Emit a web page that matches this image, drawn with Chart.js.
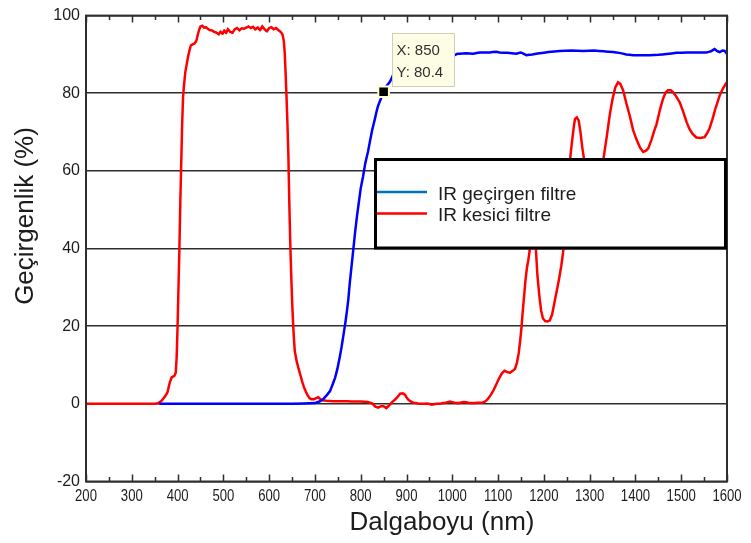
<!DOCTYPE html>
<html>
<head>
<meta charset="utf-8">
<script src="https://cdn.jsdelivr.net/npm/chart.js@4.4.1/dist/chart.umd.min.js"></script>
<style>
  html, body { margin: 0; padding: 0; background: #fff; }
  #wrap { width: 751px; height: 543px; position: relative; }
</style>
</head>
<body>
<div id="wrap"><canvas id="chart" width="751" height="543"></canvas></div>
<script>
// Transmittance spectra (wavelength in nm, transmittance in %)
const wlRed = [200, 250, 300, 350, 358, 365, 372, 378, 383, 387, 393, 396, 398, 400, 402, 404, 406, 408, 410, 412,
  414, 417, 420, 423, 426, 429, 433, 437, 441, 444, 447, 450, 454, 458, 462, 466, 470, 475, 480, 485,
  490, 494, 498, 502, 506, 510, 515, 520, 525, 530, 535, 540, 545, 550, 555, 560, 565, 570, 575, 580,
  585, 590, 595, 600, 605, 610, 615, 620, 625, 629, 632, 634, 636, 638, 640, 642, 644, 646, 648, 650,
  652, 654, 656, 660, 664, 668, 672, 676, 680, 684, 688, 692, 698, 703, 707, 711, 716, 725, 740, 760,
  780, 800, 815, 825, 832, 838, 845, 850, 856, 862, 868, 874, 880, 886, 892, 897, 902, 908, 915, 925,
  935, 945, 955, 965, 975, 985, 995, 1005, 1015, 1025, 1035, 1045, 1055, 1065, 1072, 1078, 1084, 1090, 1096, 1102,
  1108, 1114, 1120, 1126, 1132, 1137, 1141, 1145, 1148, 1151, 1154, 1157, 1160, 1163, 1166, 1169, 1172, 1175, 1178, 1181,
  1183, 1186, 1190, 1194, 1198, 1203, 1208, 1213, 1218, 1223, 1228, 1233, 1238, 1242, 1246, 1250, 1254, 1257, 1261, 1265,
  1268, 1272, 1276, 1280, 1284, 1289, 1294, 1300, 1306, 1312, 1318, 1324, 1330, 1337, 1344, 1350, 1356, 1362, 1367, 1373,
  1380, 1388, 1395, 1402, 1410, 1417, 1423, 1428, 1435, 1441, 1446, 1453, 1460, 1466, 1471, 1477, 1482, 1490, 1497, 1505,
  1512, 1518, 1525, 1533, 1542, 1551, 1557, 1562, 1568, 1575, 1584, 1591, 1597, 1600];
const tRed = [0, 0, 0, 0, 0.2, 0.8, 1.8, 3, 5.5, 6.8, 7.2, 8, 12, 20, 30, 40, 52, 62, 72, 79,
  82, 85.5, 87.5, 89.5, 91, 92.3, 92.6, 92.8, 93.5, 95, 96.3, 97.2, 97.4, 96.9, 97, 96.6, 96.3, 96.2, 95.8, 95.6,
  95.2, 95.9, 95.3, 96.2, 95.5, 96.5, 95.8, 95.6, 96.5, 96.8, 96.2, 96.7, 96.6, 96.9, 97.2, 96.8, 97.1, 96.4, 97, 96.2,
  97.2, 96.5, 95.9, 96.8, 97, 96.5, 96.8, 96.3, 95.8, 95.2, 93.5, 90.5, 85, 79, 72, 64, 52, 42, 34, 27,
  21.5, 17, 13.6, 11, 9.2, 7.5, 5.8, 4.3, 3.2, 2.2, 1.5, 1.2, 1.2, 1.5, 1.7, 1.3, 0.9, 0.8, 0.7, 0.7,
  0.6, 0.6, 0.5, 0.1, -0.7, -1, -0.6, -0.6, -1.1, -0.4, 0.4, 1, 1.7, 2.6, 2.7, 2.3, 1.3, 0.7, 0.3, 0.1,
  0, 0.1, -0.2, 0, 0.1, 0.3, 0.6, 0.3, 0.2, 0.5, 0.3, 0.2, 0.3, 0.3, 0.6, 1.3, 2.3, 3.5, 5, 6.5,
  7.8, 8.5, 8.2, 8, 8.5, 9, 10.5, 13, 16, 19.5, 24, 28, 32, 35, 37, 39.5, 46, 50, 50.5, 45,
  39, 33, 28, 24, 22, 21.3, 21.2, 21.5, 23, 26, 29, 32, 35.5, 39, 45, 51, 57, 62.7, 67, 71,
  73.4, 73.8, 73, 70, 66, 62, 57, 53, 50.5, 51, 54, 58.5, 63, 68.5, 74.5, 78.5, 81.5, 82.8, 82.4, 80.8,
  77.5, 74, 70.5, 68.2, 66, 64.9, 65.2, 65.8, 68, 70.3, 72, 75.5, 78.5, 80.2, 80.8, 80.8, 80.3, 79, 77.6, 75,
  72.5, 70.8, 69.5, 68.6, 68.5, 68.7, 69.8, 71, 73.2, 76.2, 79.4, 81.2, 82.4, 82.8];

const wlBlue = [360, 400, 450, 500, 550, 600, 650, 700, 710, 718, 725, 733, 738, 744, 749, 754, 758, 762, 766, 770,
  773, 776, 780, 784, 788, 792, 796, 800, 805, 810, 816, 820, 825, 831, 835, 838, 842, 846, 850, 856,
  864, 872, 880, 890, 900, 920, 950, 980, 1002, 1010, 1016, 1030, 1046, 1060, 1082, 1095, 1103, 1120, 1140, 1150,
  1162, 1175, 1191, 1210, 1235, 1260, 1286, 1310, 1330, 1351, 1365, 1380, 1395, 1410, 1431, 1450, 1468, 1490, 1512, 1530,
  1555, 1565, 1573, 1578, 1584, 1590, 1595, 1600];
const tBlue = [0, 0, 0, 0, 0, 0, 0, 0.2, 0.6, 1.2, 2.1, 3.3, 4.8, 6.7, 9, 11.9, 14.5, 17.5, 20.5, 24,
  27, 31, 35.5, 40, 44.5, 48.5, 52, 55.5, 58.5, 62, 65, 67.5, 70.5, 73.4, 75.5, 76.8, 78, 79.2, 80.4, 81.8,
  83, 85, 86.8, 88.3, 89.2, 89.6, 89.8, 89.6, 89.6, 90.1, 90.2, 90.3, 90.2, 90.5, 90.5, 90.7, 90.5, 90.4, 90.2, 90.5,
  89.8, 90, 90.3, 90.6, 90.9, 91, 90.9, 91, 90.8, 90.6, 90.4, 90, 89.8, 89.8, 89.8, 89.9, 90.1, 90.4, 90.5, 90.5,
  90.5, 90.8, 91.4, 90.9, 90.6, 91, 90.9, 90.1];

const seriesNames = ["IR geçirgen filtre", "IR kesici filtre"];
const legendColors = ["#0072BD", "#FF0000"];

const xTickValues = [200, 300, 400, 500, 600, 700, 800, 900, 1000, 1100, 1200, 1300, 1400, 1500, 1600];
const yTickValues = [-20, 0, 20, 40, 60, 80, 100];

// Data cursor point
const tipWl = 850;
const tipT = 80.4;

const toPoints = (xs, ys) => xs.map((x, i) => ({ x, y: ys[i] }));

const ARIAL = "'Liberation Sans', Arial, sans-serif";
const TEXT = "#1c1c1c";
const AXIS = "#2e2e2e";

// Box, inward tick marks, condensed x labels, axis titles, legend and data tip
const decorations = {
  id: "decorations",
  afterDatasetsDraw(chart) {
    const { ctx, chartArea: a, scales: { x, y } } = chart;
    ctx.save();

    // tick marks every 50 nm, pointing into the plot
    ctx.strokeStyle = AXIS;
    ctx.lineWidth = 1.5;
    for (let v = 200; v <= 1600; v += 50) {
      const px = Math.round(x.getPixelForValue(v)) + 0.5;
      const len = v % 100 === 0 ? 7 : 4.5;
      ctx.beginPath();
      ctx.moveTo(px, a.bottom);
      ctx.lineTo(px, a.bottom - len);
      ctx.moveTo(px, a.top);
      ctx.lineTo(px, a.top + len);
      ctx.stroke();
    }

    // axes box
    ctx.lineWidth = 2;
    ctx.strokeRect(a.left, a.top, a.right - a.left, a.bottom - a.top);

    // x tick labels, horizontally condensed
    ctx.fillStyle = TEXT;
    ctx.font = "16px " + ARIAL;
    ctx.textAlign = "center";
    ctx.textBaseline = "alphabetic";
    x.ticks.forEach(t => {
      ctx.save();
      ctx.translate(x.getPixelForValue(t.value), 501);
      ctx.scale(0.82, 1);
      ctx.fillText(String(t.value), 0, 0);
      ctx.restore();
    });

    // axis titles
    ctx.font = "26px " + ARIAL;
    ctx.fillText("Dalgaboyu (nm)", 442, 530);

    ctx.save();
    ctx.translate(33, 216);
    ctx.rotate(-Math.PI / 2);
    ctx.font = "26px " + ARIAL;
    ctx.fillText("Geçirgenlik (%)", 0, 0);
    ctx.restore();

    // data tip next to the cursor point
    const px = x.getPixelForValue(tipWl);
    const py = y.getPixelForValue(tipT);
    const bx = Math.round(px + 8) + 0.5;
    const by = Math.round(py - 59) + 0.5;
    ctx.fillStyle = "#fdfde6";
    ctx.strokeStyle = "#cfcfb6";
    ctx.lineWidth = 1;
    ctx.fillRect(bx, by, 62, 53);
    ctx.strokeRect(bx, by, 62, 53);
    ctx.fillStyle = "#303030";
    ctx.font = "15px " + ARIAL;
    ctx.textAlign = "left";
    ctx.fillText("X: " + tipWl, bx + 4, by + 21.5);
    ctx.fillText("Y: " + tipT.toFixed(1), bx + 4, by + 43);

    // legend box
    const lx = 375.5, ly = 159.5, lw = 350, lh = 88.5;
    ctx.fillStyle = "#fff";
    ctx.fillRect(lx, ly, lw, lh);
    ctx.strokeStyle = "#000";
    ctx.lineWidth = 3;
    ctx.strokeRect(lx, ly, lw, lh);
    ctx.font = "19px " + ARIAL;
    ctx.lineWidth = 2.5;
    seriesNames.forEach((name, i) => {
      const ry = 192 + i * 21.5;
      ctx.strokeStyle = legendColors[i];
      ctx.beginPath();
      ctx.moveTo(377, ry);
      ctx.lineTo(427, ry);
      ctx.stroke();
      ctx.fillStyle = TEXT;
      ctx.fillText(name, 438, ry + 7.5);
    });

    ctx.restore();
  }
};

new Chart(document.getElementById("chart"), {
  type: "line",
  data: {
    datasets: [
      {
        label: "cursor",
        type: "scatter",
        data: [{ x: tipWl, y: tipT }],
        pointStyle: "rect",
        pointRadius: 7.5,
        backgroundColor: "#000",
        borderColor: "#ffffc8",
        borderWidth: 2,
        order: 0
      },
      {
        label: seriesNames[0],
        data: toPoints(wlBlue, tBlue),
        borderColor: "#0000FF",
        borderWidth: 2.5,
        pointRadius: 0,
        tension: 0.001,
        order: 1
      },
      {
        label: seriesNames[1],
        data: toPoints(wlRed, tRed),
        borderColor: "#FF0000",
        borderWidth: 2.5,
        pointRadius: 0,
        tension: 0.001,
        order: 2
      }
    ]
  },
  options: {
    responsive: false,
    animation: false,
    layout: { padding: { left: 0, right: 24, top: 14.5, bottom: 0 } },
    plugins: {
      legend: { display: false },
      tooltip: { enabled: false }
    },
    scales: {
      x: {
        type: "linear",
        min: 200,
        max: 1600,
        afterBuildTicks: s => { s.ticks = xTickValues.map(v => ({ value: v })); },
        afterFit: s => { s.height = 61.5; },
        ticks: { display: false },
        grid: { display: false },
        border: { display: false }
      },
      y: {
        min: -20,
        max: 100,
        afterBuildTicks: s => { s.ticks = yTickValues.map(v => ({ value: v })); },
        afterFit: s => { s.width = 86; },
        ticks: { color: TEXT, font: { family: ARIAL, size: 16 }, padding: 6 },
        grid: { color: AXIS, lineWidth: 1.6, drawTicks: false },
        border: { display: false }
      }
    }
  },
  plugins: [decorations]
});
</script>
</body>
</html>
